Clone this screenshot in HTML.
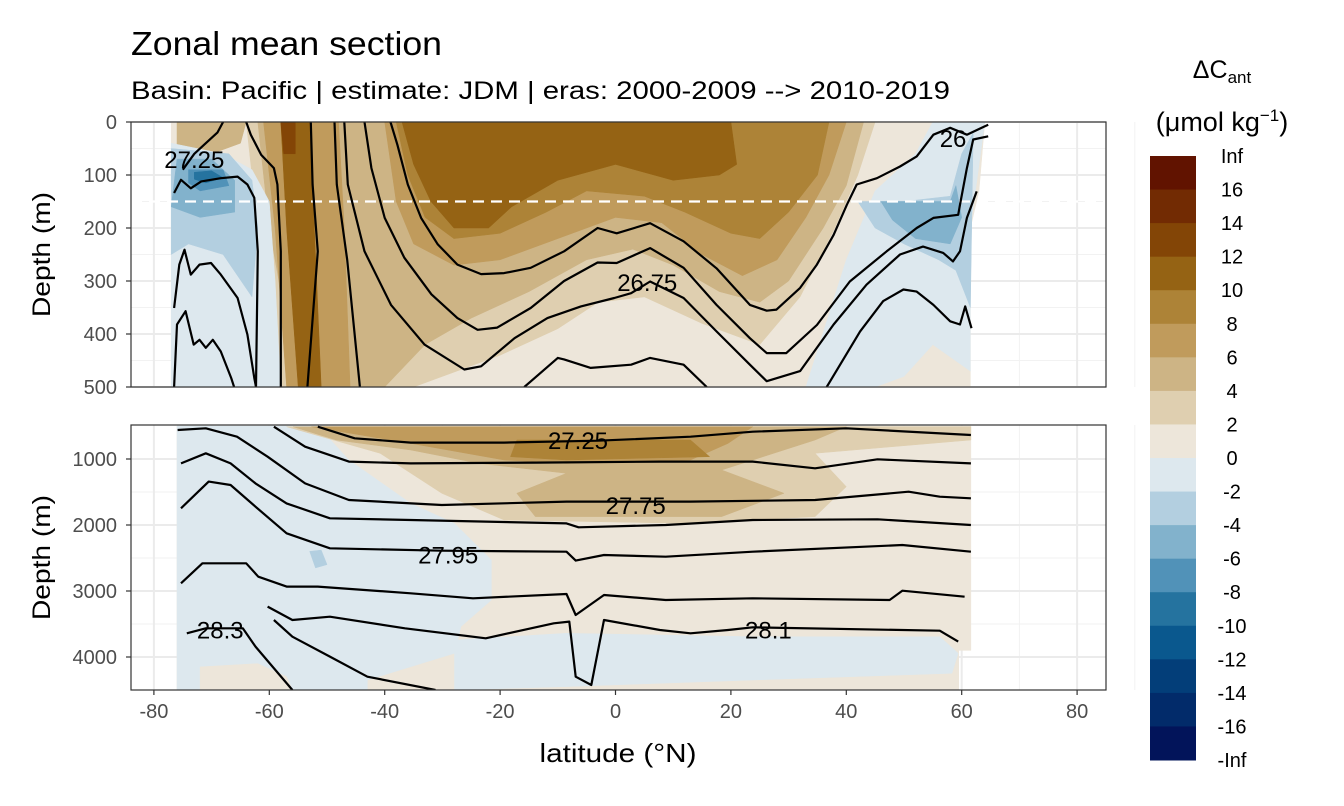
<!DOCTYPE html>
<html><head><meta charset="utf-8">
<style>
html,body{margin:0;padding:0;background:#fff;}
svg{display:block;font-family:"Liberation Sans",Arial,sans-serif;}
</style></head>
<body>
<svg id="chart" width="1344" height="806" viewBox="0 0 1344 806" xmlns="http://www.w3.org/2000/svg">
<text x="131" y="55" font-size="33" textLength="311" lengthAdjust="spacingAndGlyphs" fill="#000">Zonal mean section</text>
<text x="131" y="99" font-size="25" textLength="819" lengthAdjust="spacingAndGlyphs" fill="#000">Basin: Pacific | estimate: JDM  | eras: 2000-2009 --&gt; 2010-2019</text>
<g id="topPanel"></g>
<g id="botPanel"></g>
<g id="axes"></g>
<g id="legend"></g>
</svg>
<script>
// ---------- data ----------
const xTicks = [-80,-60,-40,-20,0,20,40,60,80];
const topTicks = [0,100,200,300,400,500];
const botTicks = [1000,2000,3000,4000];
const legendLabels = ["Inf","16","14","12","10","8","6","4","2","0","-2","-4","-6","-8","-10","-12","-14","-16","-Inf"];
const legendColors = ["#611300","#722b03","#834506","#956314","#ad8337","#c09b5c","#cdb485","#dfcfb0","#ede6da","#dde8ee","#b3cfe0","#82b2cc","#5192b8","#25739f","#0a588e","#033e79","#022b6a","#02145a"];

// top panel fill regions [lat, depth]
const topBase = [[-77,0],[64,0],[63,130],[61.5,200],[61.5,500],[-77,500]];
const topBrown24 = [[-64,0],[45,0],[42,100],[38,200],[32,330],[25,420],[15,380],[5,330],[-3,340],[-10,390],[-20,440],[-30,480],[-35,500],[-60,500],[-62,200]];
const topBrown46 = [[-62,0],[43,0],[40,120],[36,200],[30,300],[25,340],[18,320],[10,270],[3,240],[-5,260],[-15,320],[-25,370],[-33,420],[-40,500],[-55,500],[-60,200]];
const topBrown68a = [[-61,0],[-48,0],[-47,200],[-46,500],[-57,500],[-59,200]];
const topBrown68b = [[-40,0],[40,0],[37,100],[33,180],[28,260],[22,290],[15,250],[8,190],[0,180],[-10,220],[-20,260],[-28,270],[-35,230],[-38,150]];
const topBrown810 = [[-38,0],[37,0],[35,100],[30,170],[25,220],[20,210],[12,170],[5,140],[-5,130],[-12,170],[-20,210],[-28,220],[-33,180],[-36,100]];
const topBrown1012a = [[-37,0],[20,0],[21,80],[18,100],[10,110],[0,80],[-10,110],[-18,160],[-22,200],[-28,200],[-32,150],[-35,80]];
const topBrown1012b = [[-58,0],[-53,0],[-52,250],[-51,500],[-55,500],[-57,200]];
const topBrown1214 = [[-58,0],[-55.5,0],[-55.5,60],[-57.5,60]];
const topBrownNW = [[-76,0],[-64,0],[-65,40],[-70,60],[-76,60]];
const topBlue02L = [[-77,40],[-68,60],[-63,90],[-60,150],[-59,300],[-58,500],[-77,500]];
const topBlue24L = [[-77,50],[-67,60],[-63,110],[-62,200],[-63,330],[-68,250],[-74,230],[-77,250]];
const topBlue46L = [[-76,70],[-70,70],[-66,110],[-66,170],[-72,180],[-77,160]];
const topBlue68L = [[-74,90],[-68,90],[-67,120],[-72,130],[-74,115]];
const topBlue810L = [[-73,95],[-70,92],[-68,105],[-71,115],[-73,108]];
const topBlue02R = [[33,500],[40,260],[45,130],[52,60],[55,0],[64,0],[61.5,200],[61.5,470],[55,420],[50,480],[45,500]];
const topBlue24R = [[42,150],[50,150],[58,140],[60,60],[62,20],[61.5,350],[59,280],[56,260],[50,230],[45,200]];
const topBlue46R = [[46,150],[58,150],[59,120],[60,180],[58,230],[52,220],[48,185]];

// top panel isopycnals [lat, depth]
const topB = [[-76.5,134],[-75.3,109],[-73.6,125],[-71.8,112],[-68.4,106],[-65.5,103],[-63.8,118],[-62.6,143],[-62.0,244],[-62.3,500]];
const topC = [[-76.5,351],[-75.6,269],[-74.7,241],[-73.6,288],[-72.1,269],[-70.1,266],[-68.4,288],[-65.5,332],[-63.8,401],[-62.6,483],[-62.3,500]];
const topD = [[-76.5,500],[-76.0,382],[-74.5,357],[-73.1,420],[-72.1,411],[-71.0,426],[-69.8,411],[-68.4,433],[-66.6,483],[-66.1,500]];
const topE = [[-75,90],[-73,60],[-71,40],[-69,20],[-68,0]];
const topV1 = [[-64.0,0],[-63.2,24],[-61.4,62],[-59.2,87],[-58.6,118],[-58.0,244],[-58.0,500]];
const topV2 = [[-52.8,0],[-52.5,118],[-51.6,244],[-53.4,500]];
const topV3 = [[-48.7,0],[-48.3,118],[-46.5,260],[-44.3,500]];
const topU1 = [[-39,0],[-37.8,43],[-36,118],[-33.7,181],[-30.8,231],[-27.4,269],[-23.3,287],[-19.3,285],[-14.7,275],[-8.9,244],[-3.1,200],[0.2,210],[6.0,191],[11.8,225],[17.5,276],[23.3,345],[26.2,356],[27.9,354],[32.0,313],[34.9,269],[37.8,213],[40.1,156],[41.8,118],[45.3,106],[49.3,84],[52.2,65],[55.1,24],[58.0,11],[60.9,24],[64.6,5]];
const topU2 = [[-43.5,0],[-42.3,87],[-40,181],[-36.6,256],[-31.9,325],[-27.4,370],[-23.9,392],[-20.5,388],[-14.7,351],[-8.9,300],[-3.1,265],[0.2,266],[6.0,238],[11.8,275],[17.5,345],[23.3,408],[26.2,436],[29.6,436],[34.9,383],[40.6,301],[47.0,244],[52.2,200],[55.1,181],[59.4,175],[59.7,156],[60.9,87],[62.0,33],[64.6,27]];
const topU3 = [[-47,0],[-46.4,118],[-43.5,244],[-38.9,345],[-33.1,420],[-26.2,467],[-23.3,461],[-17.5,408],[-11.8,370],[-6,348],[-0.2,332],[2.7,323],[6.0,301],[11.8,332],[17.5,395],[23.3,458],[26.2,489],[32.0,470],[37.8,382],[43.5,307],[49.3,250],[53.3,235],[56.8,247],[58.5,263],[59.7,244],[60.9,181],[62.6,131]];
const topU4 = [[-15.8,500],[-10.0,445],[-8.9,448],[-4.3,464],[2.7,458],[6.0,445],[11.8,458],[15.8,500]];
const topU5 = [[36.6,500],[42.4,395],[46.4,338],[49.9,316],[52.2,320],[55.1,345],[58.0,376],[59.7,382],[60.6,348],[61.7,389]];

// bottom panel fill regions
const botBase = [[-76,500],[61.6,500],[61.6,3900],[59.5,3900],[59.5,4500],[-76,4500]];
const botBlue = [[-76,500],[-51.6,500],[-46.2,1015],[-35.5,1672],[-27.9,1975],[-21.5,2530],[-21.5,3136],[-26.8,3540],[-27.9,3944],[-43,4348],[-43,4500],[-76,4500]];
const botBlueDeep = [[-27.9,3742],[-8.5,3641],[23.8,3692],[56.2,3692],[59.4,3944],[58.3,4247],[23.8,4348],[-8.5,4449],[-27.9,4500]];
const botBeigeSW = [[-72,4150],[-62,4100],[-57,4300],[-56,4500],[-72,4500]];
const botBrown24 = [[-57,510],[61.6,510],[61.6,712],[34.6,914],[40,1419],[34.6,1873],[13,1975],[-19.3,1924],[-30.1,1520],[-40.8,914]];
const botBrown46 = [[-55.9,510],[40,510],[34.6,712],[18.4,1167],[29.2,1520],[18.4,1873],[-13.9,1873],[-17.1,1520],[-8.5,1217],[-23.6,1066],[-35.5,864],[-48.4,712]];
const botBrown68 = [[-52.7,510],[23.8,510],[19.5,763],[13.0,1015],[-8.5,1066],[-19.3,1015],[-35.5,763]];
const botBrown810 = [[-17.1,712],[13.0,712],[16.3,965],[-8.5,1015],[-18.2,965]];
const botBlue24 = [[-53,2400],[-51,2380],[-50,2600],[-52,2650]];

// bottom panel isopycnals
const botL1 = [[-51.6,510],[-45.2,687],[-35.5,752],[-19.3,752],[-3.1,722],[13.0,662],[23.8,586],[40.0,535],[61.6,636]];
const botL2 = [[-59.2,510],[-53.8,813],[-46.2,1040],[-35.5,1066],[-13.9,1055],[7.7,1040],[23.8,1040],[34.6,1141],[45.4,1005],[61.6,1066]];
const botL3 = [[-75.9,561],[-71.0,535],[-65.6,662],[-60.3,965],[-53.8,1369],[-46.2,1621],[-30.1,1697],[-8.5,1646],[13.0,1646],[34.6,1621],[50.8,1495],[56.2,1571],[61.6,1596]];
const botL4 = [[-75.3,1066],[-71.0,914],[-66.7,1066],[-62.4,1369],[-57.0,1672],[-49.5,1899],[-35.5,1924],[-8.5,1975],[-6.4,2035],[8.7,2000],[23.8,1924],[45.4,1914],[61.6,2000]];
const botL5 = [[-75.3,1747],[-70.5,1343],[-66.7,1394],[-62.4,1722],[-57.0,2126],[-49.5,2353],[-30.1,2389],[-8.5,2404],[-6.9,2540],[-2.0,2454],[8.7,2480],[23.8,2404],[49.7,2303],[61.6,2404]];
const botL6 = [[-75.3,2884],[-71.6,2581],[-64.0,2581],[-61.9,2783],[-57,2934],[-51.6,2934],[-35.5,3035],[-24.7,3111],[-8.5,3045],[-6.9,3363],[-2.0,3060],[8.7,3136],[23.8,3111],[47.5,3136],[49.7,2995],[60.5,3086]];
const botL7 = [[-60.3,3237],[-56.0,3439],[-49.5,3389],[-36.5,3565],[-22.5,3717],[-10.7,3490],[-8.0,3464],[-6.9,4298],[-4.2,4424],[-2.0,3439],[7.7,3591],[13.0,3641],[19.5,3591],[23.8,3550],[56.2,3601],[59.4,3767]];
const botL8 = [[-59.2,3439],[-56.0,3692],[-49.5,3994],[-43.0,4298],[-31.2,4500]];
const botL9 = [[-74.3,3641],[-71.0,3565],[-64.6,3565],[-62.4,3843],[-56.0,4500]];

// ---------- scales ----------
const PX0=131, PX1=1106, TY0=122, TY1=387, BY0=425, BY1=690;
const X = lat => 615.5 + lat*5.77;
const YT = d => 122 + d*0.53;
const YB = d => 459 + (d-1000)*0.066;
const NS="http://www.w3.org/2000/svg";
function mk(tag, attrs, parent){const e=document.createElementNS(NS,tag);for(const k in attrs)e.setAttribute(k,attrs[k]);parent.appendChild(e);return e;}
function pts(arr,Y){return arr.map(p=>X(p[0]).toFixed(1)+","+Y(p[1]).toFixed(1)).join(" ");}

const svg=document.getElementById('chart');
const defs=mk('defs',{},svg);
const c1=mk('clipPath',{id:'clipTop'},defs); mk('rect',{x:PX0,y:TY0,width:PX1-PX0,height:TY1-TY0},c1);
const c2=mk('clipPath',{id:'clipBot'},defs); mk('rect',{x:PX0,y:BY0,width:PX1-PX0,height:BY1-BY0},c2);

function grid(g,y0,y1,ticksY,Y,minorY){
  const bg=mk('rect',{x:PX0,y:y0,width:PX1-PX0,height:y1-y0,fill:'#fff'},g);
  
  
  for(let v=-70;v<=90;v+=20){mk('line',{x1:X(v),x2:X(v),y1:y0,y2:y1,stroke:'#f2f2f2','stroke-width':1},g);}
  minorY.forEach(v=>mk('line',{x1:PX0,x2:PX1,y1:Y(v),y2:Y(v),stroke:'#f2f2f2','stroke-width':1},g));
  xTicks.forEach(v=>mk('line',{x1:X(v),x2:X(v),y1:y0,y2:y1,stroke:'#ebebeb','stroke-width':2},g));
  ticksY.forEach(v=>mk('line',{x1:PX0,x2:PX1,y1:Y(v),y2:Y(v),stroke:'#ebebeb','stroke-width':2},g));
}
function fill(g,arr,Y,col,name){
  const p=mk('polygon',{points:pts(arr,Y),fill:col,stroke:col,'stroke-width':0.5},g);
  
  
}
function line(g,arr,Y,name){
  const p=mk('polyline',{points:pts(arr,Y),fill:'none',stroke:'#000','stroke-width':2.2,'stroke-linejoin':'round'},g);
  
  
}
function label(g,t,lat,d,Y){
  const e=mk('text',{x:X(lat),y:Y(d)+9,'font-size':24,'text-anchor':'middle',fill:'#000'},g);
  e.textContent=t;
  
  
}

// ---------- top panel ----------
const gt=document.getElementById('topPanel');
grid(gt,TY0,TY1,topTicks,YT,[50,150,250,350,450]);
const gtd=mk('g',{'clip-path':'url(#clipTop)'},gt);
fill(gtd,topBase,YT,'#ede6da','fill-base');
fill(gtd,topBrown24,YT,'#dfcfb0','fill-2-4');
fill(gtd,topBrown46,YT,'#cdb485','fill-4-6');
fill(gtd,topBrownNW,YT,'#cdb485','fill-4-6');
fill(gtd,topBrown68a,YT,'#c09b5c','fill-6-8');
fill(gtd,topBrown68b,YT,'#c09b5c','fill-6-8');
fill(gtd,topBrown810,YT,'#ad8337','fill-8-10');
fill(gtd,topBrown1012a,YT,'#956314','fill-10-12');
fill(gtd,topBrown1012b,YT,'#956314','fill-10-12');
fill(gtd,topBrown1214,YT,'#834506','fill-12-14');
fill(gtd,topBlue02L,YT,'#dde8ee','fill-neg0-2');
fill(gtd,topBlue24L,YT,'#b3cfe0','fill-neg2-4');
fill(gtd,topBlue46L,YT,'#82b2cc','fill-neg4-6');
fill(gtd,topBlue68L,YT,'#5192b8','fill-neg6-8');
fill(gtd,topBlue810L,YT,'#25739f','fill-neg8-10');
fill(gtd,topBlue02R,YT,'#dde8ee','fill-neg0-2');
fill(gtd,topBlue24R,YT,'#b3cfe0','fill-neg2-4');
fill(gtd,topBlue46R,YT,'#82b2cc','fill-neg4-6');
const dash=mk('line',{x1:PX0,x2:PX1,y1:YT(150),y2:YT(150),stroke:'#fff','stroke-width':2.2,'stroke-dasharray':'11,7'},gtd);


[topB,topC,topD,topE,topV1,topV2,topV3,topU1,topU2,topU3,topU4,topU5].forEach(a=>line(gtd,a,YT,'isopycnal'));
label(gt,'27.25',-73,70,YT);
label(gt,'26.75',5.5,302,YT);
label(gt,'26',58.5,30,YT);

// ---------- bottom panel ----------
const gb=document.getElementById('botPanel');
grid(gb,BY0,BY1,botTicks,YB,[1500,2500,3500,4500]);
const gbd=mk('g',{'clip-path':'url(#clipBot)'},gb);
fill(gbd,botBase,YB,'#ede6da','fill-base');
fill(gbd,botBlue,YB,'#dde8ee','fill-neg0-2');
fill(gbd,botBlueDeep,YB,'#dde8ee','fill-neg0-2');
fill(gbd,botBeigeSW,YB,'#ede6da','fill-0-2');
fill(gbd,botBrown24,YB,'#dfcfb0','fill-2-4');
fill(gbd,botBrown46,YB,'#cdb485','fill-4-6');
fill(gbd,botBrown68,YB,'#c09b5c','fill-6-8');
fill(gbd,botBrown810,YB,'#ad8337','fill-8-10');
fill(gbd,botBlue24,YB,'#b3cfe0','fill-neg2-4');
[botL1,botL2,botL3,botL4,botL5,botL6,botL7,botL8,botL9].forEach(a=>line(gbd,a,YB,'isopycnal'));
label(gb,'27.25',-6.5,712,YB);
label(gb,'27.75',3.5,1700,YB);
label(gb,'27.95',-29,2450,YB);
label(gb,'28.3',-68.5,3580,YB);
label(gb,'28.1',26.5,3580,YB);

// ---------- axes ----------
const ga=document.getElementById('axes');
[[TY0,TY1],[BY0,BY1]].forEach(r=>{
  const b=mk('rect',{x:PX0,y:r[0],width:PX1-PX0,height:r[1]-r[0],fill:'none',stroke:'#333','stroke-width':1.2},ga);
  
  
});
function ytick(v,Y){
  mk('line',{x1:PX0-5,x2:PX0,y1:Y(v),y2:Y(v),stroke:'#333','stroke-width':1.2},ga);
  const t=mk('text',{x:PX0-14,y:Y(v)+7,'font-size':20,'text-anchor':'end',fill:'#4d4d4d'},ga);
  t.textContent=v;
  
  
}
topTicks.forEach(v=>ytick(v,YT));
botTicks.forEach(v=>ytick(v,YB));
xTicks.forEach(v=>{
  mk('line',{x1:X(v),x2:X(v),y1:BY1,y2:BY1+5,stroke:'#333','stroke-width':1.2},ga);
  const t=mk('text',{x:X(v),y:BY1+28,'font-size':20,'text-anchor':'middle',fill:'#4d4d4d'},ga);
  t.textContent=v;
  
  
});
const xt=mk('text',{x:618,y:762,'font-size':26,'text-anchor':'middle',fill:'#000',textLength:157,lengthAdjust:'spacingAndGlyphs'},ga);
xt.textContent='latitude (°N)';


[[(TY0+TY1)/2],[(BY0+BY1)/2]].forEach(c=>{
  const t=mk('text',{x:50,y:c[0],'font-size':25,'text-anchor':'middle',fill:'#000',textLength:125,lengthAdjust:'spacingAndGlyphs',transform:'rotate(-90 50 '+c[0]+')'},ga);
  t.textContent='Depth (m)';
  
  
});

// ---------- legend ----------
const gl=document.getElementById('legend');
const LY0=156, LY1=760, LH=(LY1-LY0)/legendColors.length;
legendColors.forEach((c,i)=>{
  const r=mk('rect',{x:1150,y:LY0+i*LH,width:46,height:LH+0.5,fill:c},gl);
  
  
});
legendLabels.forEach((s,i)=>{
  const t=mk('text',{x:1232,y:LY0+i*LH+7,'font-size':20,'text-anchor':'middle',fill:'#000'},gl);
  t.textContent=s;
  
  
});
const lt=mk('text',{x:1222,y:78,'font-size':25,'text-anchor':'middle',fill:'#000'},gl);
lt.innerHTML='ΔC<tspan font-size="17" dy="5">ant</tspan>';


const lu=mk('text',{x:1222,y:131,'font-size':27,'text-anchor':'middle',fill:'#000'},gl);
lu.innerHTML='(μmol kg<tspan font-size="17" dy="-10">−1</tspan><tspan dy="10">)</tspan>';


</script>
</body></html>
